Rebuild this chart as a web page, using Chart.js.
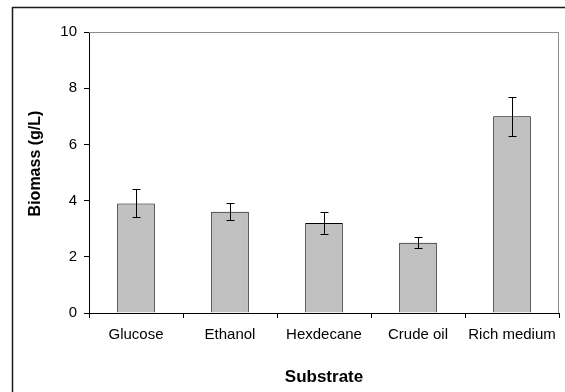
<!DOCTYPE html>
<html>
<head>
<meta charset="utf-8">
<script src="https://cdn.jsdelivr.net/npm/chart.js@4"></script>
<style>
  html, body { margin: 0; padding: 0; background: #fff; }
  #wrap { width: 565px; height: 392px; position: relative; }
</style>
</head>
<body>
<div id="wrap"><canvas id="biomassChart" width="565" height="392"></canvas></div>
<script>
const substrates = ['Glucose', 'Ethanol', 'Hexdecane', 'Crude oil', 'Rich medium'];
const biomass = [3.9, 3.6, 3.2, 2.5, 7.0];
const biomassError = [0.5, 0.3, 0.4, 0.2, 0.7];
const yTicks = [0, 2, 4, 6, 8, 10];
const yTitle = 'Biomass (g/L)';

const fontFamily = '"Liberation Sans", Arial, sans-serif';

// outer frame, grey plot-area edges (top and right) and the y title
const framePlugin = {
    id: 'frame',
    beforeDraw(chart) {
        const ctx = chart.ctx;
        ctx.save();
        ctx.strokeStyle = '#1a1a1a';
        ctx.lineWidth = 1.5;
        ctx.strokeRect(12.5, 7.5, 600, 420);
        ctx.restore();
    },
    beforeDatasetsDraw(chart) {
        const a = chart.chartArea;
        const ctx = chart.ctx;
        ctx.save();
        ctx.strokeStyle = '#8c8c8c';
        ctx.lineWidth = 1;
        ctx.beginPath();
        ctx.moveTo(a.left, a.top + 0.5);
        ctx.lineTo(a.right - 0.5, a.top + 0.5);
        ctx.lineTo(a.right - 0.5, a.bottom);
        ctx.stroke();
        ctx.restore();
    },
    afterDraw(chart) {
        // Excel puts the y title a bit above the plot centre
        const ctx = chart.ctx;
        const a = chart.chartArea;
        ctx.save();
        ctx.translate(36, (a.top + a.bottom) / 2 - 9);
        ctx.rotate(-Math.PI / 2);
        ctx.fillStyle = '#000';
        ctx.font = 'bold 16px ' + fontFamily;
        ctx.textAlign = 'center';
        ctx.textBaseline = 'middle';
        ctx.fillText(yTitle, 0, 0);
        ctx.restore();
    }
};

// error bars drawn from the data arrays through the y scale
const errorBarPlugin = {
    id: 'errorBars',
    afterDatasetsDraw(chart) {
        const ctx = chart.ctx;
        const yScale = chart.scales.y;
        const meta = chart.getDatasetMeta(0);
        ctx.save();
        ctx.strokeStyle = '#000';
        ctx.lineWidth = 1;
        meta.data.forEach(function(bar, i) {
            const x = Math.round(bar.x) + 0.5;
            const top = Math.round(yScale.getPixelForValue(biomass[i] + biomassError[i])) + 0.5;
            const bottom = Math.round(yScale.getPixelForValue(biomass[i] - biomassError[i])) + 0.5;
            ctx.beginPath();
            ctx.moveTo(x, top);
            ctx.lineTo(x, bottom);
            ctx.moveTo(x - 4, top);
            ctx.lineTo(x + 4, top);
            ctx.moveTo(x - 4, bottom);
            ctx.lineTo(x + 4, bottom);
            ctx.stroke();
        });
        ctx.restore();
    }
};

const ctx = document.getElementById('biomassChart').getContext('2d');
const chart = new Chart(ctx, {
    type: 'bar',
    data: {
        labels: substrates,
        datasets: [{
            label: 'Biomass',
            data: biomass,
            backgroundColor: '#c0c0c0',
            borderColor: '#000',
            borderWidth: 1,
            barPercentage: 0.4,
            categoryPercentage: 1.0
        }]
    },
    options: {
        responsive: false,
        animation: false,
        layout: { padding: { top: 32, right: 6, left: 0, bottom: 0 } },
        plugins: {
            legend: { display: false },
            tooltip: { enabled: false }
        },
        scales: {
            x: {
                afterFit(scale) { scale.height = 79; },
                grid: { offset: true, drawOnChartArea: false, tickLength: 5, color: '#000' },
                border: { color: '#000' },
                ticks: { color: '#000', padding: 8, font: { family: fontFamily, size: 15 } },
                title: {
                    display: true,
                    text: 'Substrate',
                    color: '#000',
                    padding: { top: 0, bottom: 4 },
                    font: { family: fontFamily, size: 17, weight: 'bold' }
                }
            },
            y: {
                min: 0,
                max: 10,
                afterFit(scale) { scale.width = 89; },
                afterBuildTicks(scale) { scale.ticks = yTicks.map(v => ({ value: v })); },
                grid: { drawOnChartArea: false, tickLength: 5, color: '#000' },
                border: { color: '#000' },
                ticks: { color: '#000', padding: 7, font: { family: fontFamily, size: 15 } }
            }
        }
    },
    plugins: [framePlugin, errorBarPlugin]
});
</script>
</body>
</html>
